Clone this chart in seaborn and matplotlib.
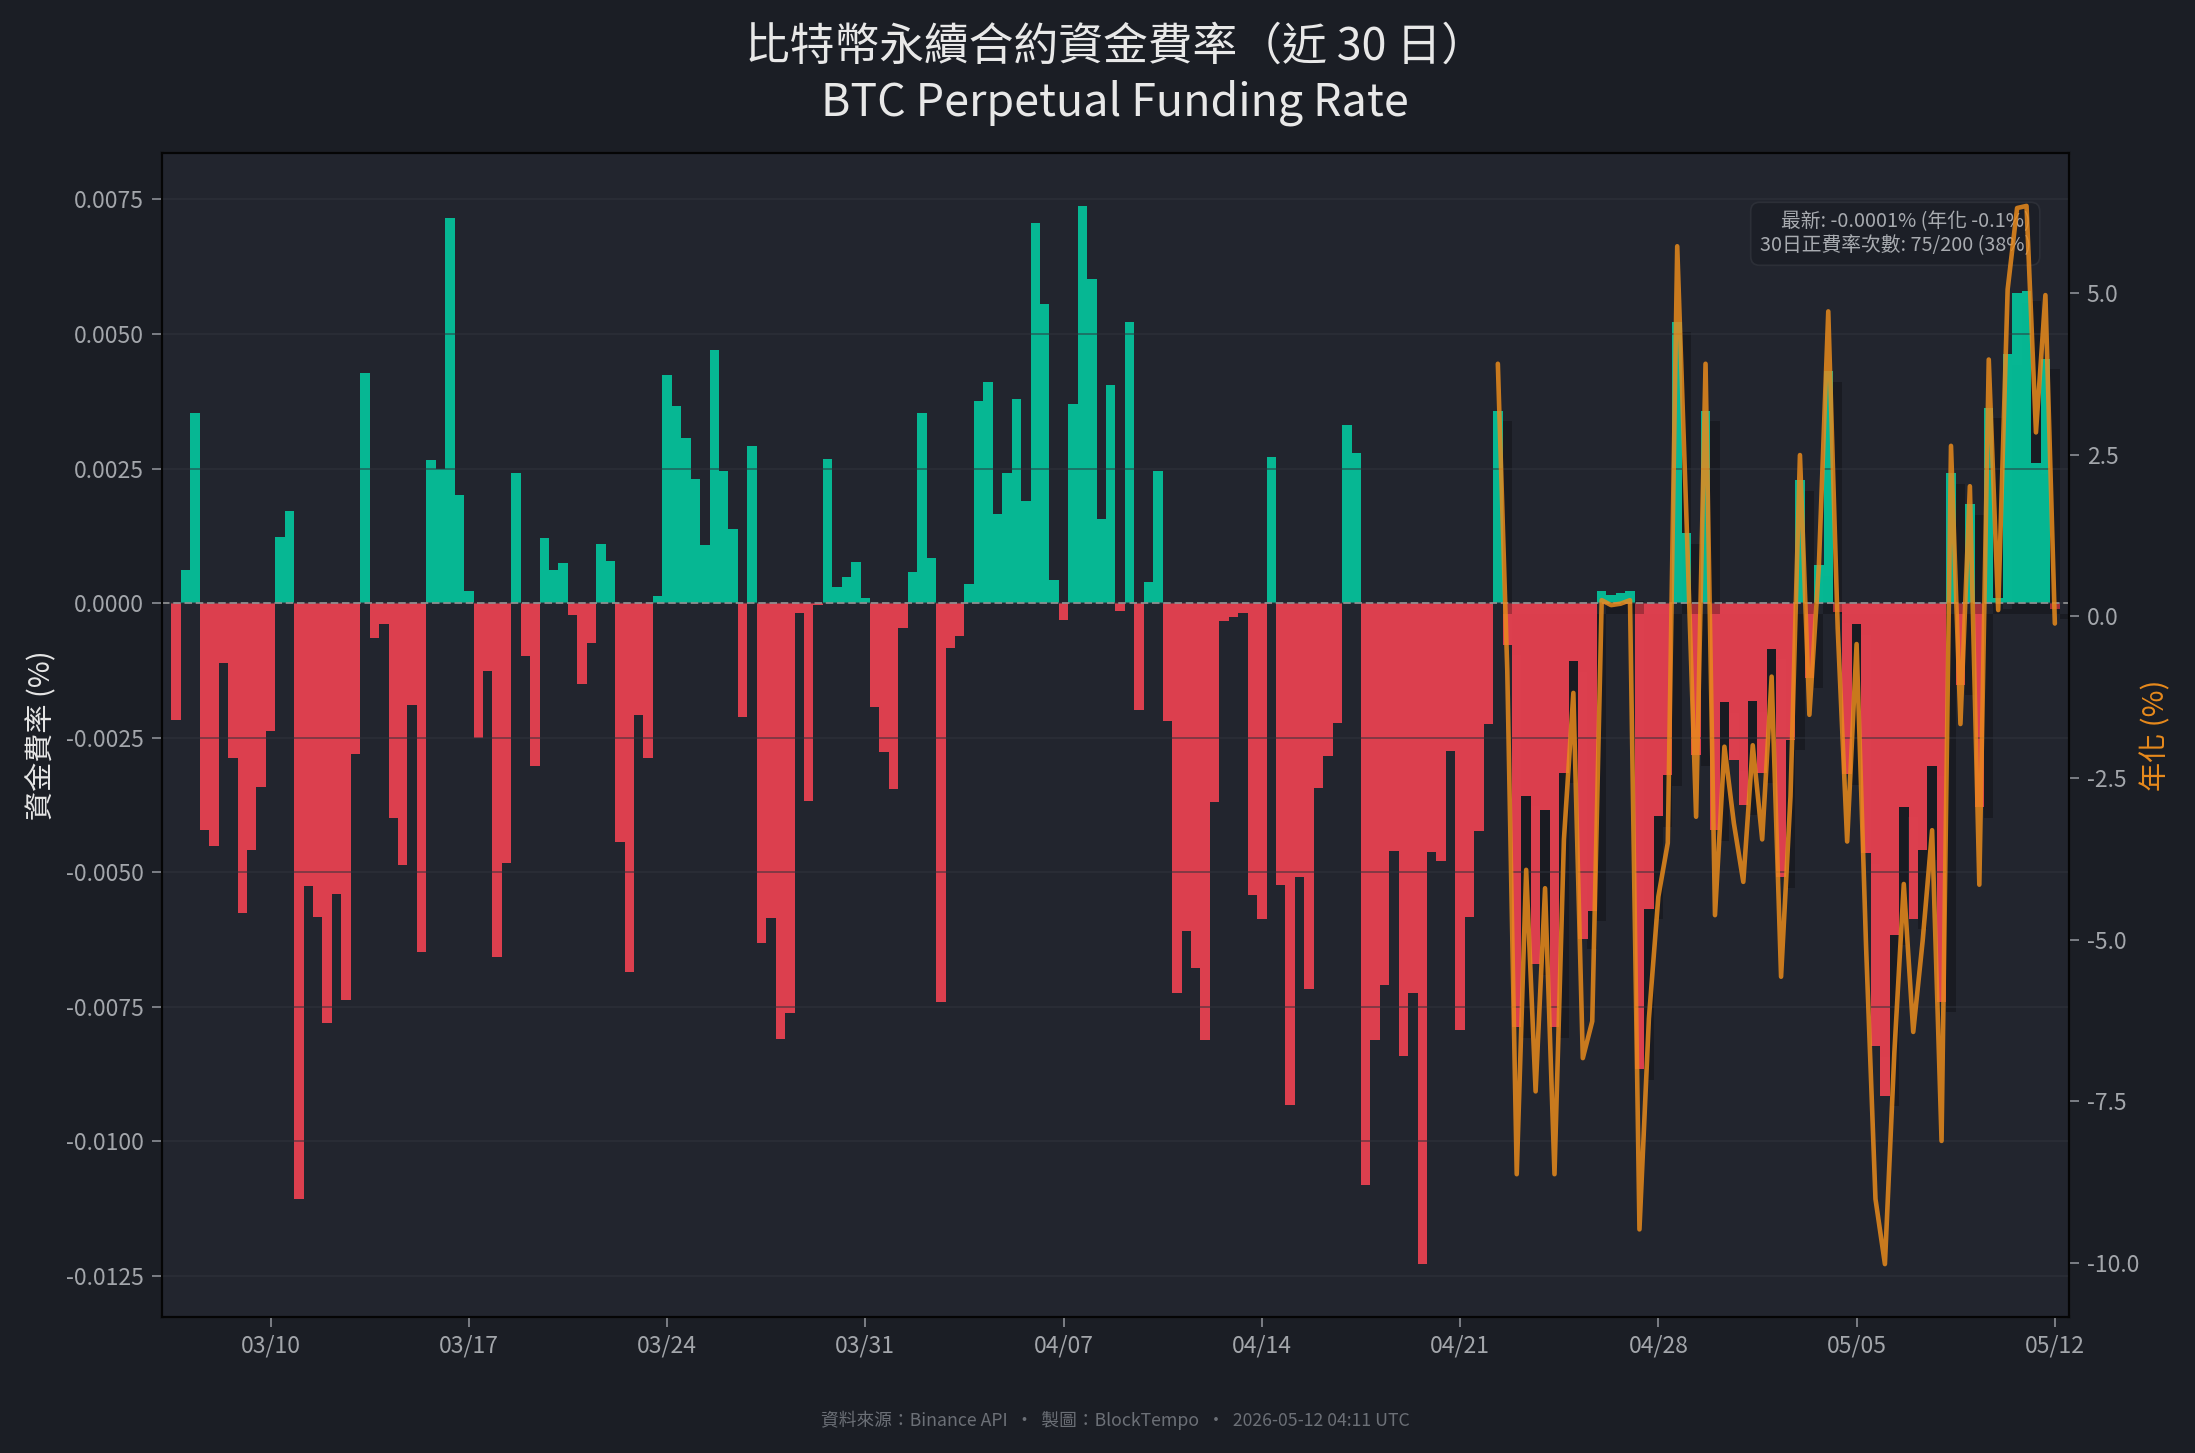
import numpy as np
import pandas as pd
import matplotlib
matplotlib.use("Agg")
import matplotlib.pyplot as plt
import matplotlib.patheffects as pe
from matplotlib.ticker import FormatStrFormatter
import seaborn as sns

# ---------------- data ----------------
first_time = "2026-03-06 16:00"          # first funding timestamp (8h interval)
funding_rates = [
    -0.00217, 0.00061, 0.00353, -0.00422, -0.00452, -0.00112, -0.00288, -0.00575, -0.00458, -0.00342,
    -0.00238, 0.00122, 0.00172, -0.01107, -0.00526, -0.00583, -0.00781, -0.00540, -0.00738, -0.00280,
    0.00427, -0.00065, -0.00039, -0.00400, -0.00487, -0.00190, -0.00648, 0.00266, 0.00250, 0.00715,
    0.00200, 0.00023, -0.00251, -0.00126, -0.00657, -0.00483, 0.00241, -0.00099, -0.00302, 0.00121,
    0.00061, 0.00074, -0.00022, -0.00151, -0.00074, 0.00109, 0.00079, -0.00444, -0.00685, -0.00208,
    -0.00288, 0.00014, 0.00423, 0.00367, 0.00306, 0.00230, 0.00108, 0.00471, 0.00245, 0.00137,
    -0.00211, 0.00292, -0.00631, -0.00585, -0.00809, -0.00762, -0.00018, -0.00368, -0.00003, 0.00267,
    0.00030, 0.00048, 0.00076, 0.00010, -0.00193, -0.00277, -0.00345, -0.00047, 0.00057, 0.00353,
    0.00083, -0.00741, -0.00083, -0.00061, 0.00035, 0.00376, 0.00411, 0.00165, 0.00241, 0.00380,
    0.00189, 0.00707, 0.00555, 0.00043, -0.00031, 0.00370, 0.00738, 0.00602, 0.00156, 0.00405,
    -0.00014, 0.00523, -0.00198, 0.00040, 0.00245, -0.00219, -0.00724, -0.00609, -0.00677, -0.00811,
    -0.00370, -0.00034, -0.00025, -0.00018, -0.00542, -0.00587, 0.00272, -0.00523, -0.00932, -0.00509,
    -0.00716, -0.00344, -0.00284, -0.00223, 0.00331, 0.00279, -0.01081, -0.00811, -0.00710, -0.00461,
    -0.00841, -0.00724, -0.01228, -0.00462, -0.00479, -0.00275, -0.00793, -0.00583, -0.00424, -0.00225,
    0.00357, -0.00077, -0.00788, -0.00358, -0.00671, -0.00384, -0.00788, -0.00315, -0.00108, -0.00624,
    -0.00572, 0.00023, 0.00016, 0.00018, 0.00023, -0.00866, -0.00568, -0.00396, -0.00320, 0.00523,
    0.00130, -0.00283, 0.00357, -0.00422, -0.00184, -0.00292, -0.00375, -0.00182, -0.00315, -0.00085,
    -0.00509, -0.00254, 0.00228, -0.00139, 0.00070, 0.00431, -0.00017, -0.00318, -0.00039, -0.00465,
    -0.00823, -0.00915, -0.00616, -0.00378, -0.00587, -0.00458, -0.00302, -0.00741, 0.00241, -0.00152,
    0.00184, -0.00379, 0.00363, 0.00009, 0.00462, 0.00577, 0.00580, 0.00260, 0.00454, -0.00010,
]
line_points = 60                          # annualized line covers the last 60 fundings
periods_per_year = 3 * 365
tick_dates = ["2026-03-10", "2026-03-17", "2026-03-24", "2026-03-31", "2026-04-07",
              "2026-04-14", "2026-04-21", "2026-04-28", "2026-05-05", "2026-05-12"]
tick_labels = ["03/10", "03/17", "03/24", "03/31", "04/07",
               "04/14", "04/21", "04/28", "05/05", "05/12"]
title_text = "比特幣永續合約資金費率（近 30 日）\nBTC Perpetual Funding Rate"
footer_text = "資料來源：Binance API  ・  製圖：BlockTempo  ・  2026-05-12 04:11 UTC"

# ---------------- style ----------------
FIG_BG = "#1b1e25"
AX_BG = "#22252e"
GREEN = "#03c89f"
RED = "#f14252"
ORANGE = "#e88a1c"
TICK_C = "#a3a6ab"

sns.set_theme(style="dark", rc={
    "figure.facecolor": FIG_BG,
    "axes.facecolor": AX_BG,
    "axes.edgecolor": "#050505",
    "axes.linewidth": 1.0,
    "xtick.color": "#8d9096",
    "ytick.color": "#8d9096",
    "xtick.labelcolor": TICK_C,
    "ytick.labelcolor": TICK_C,
    "xtick.bottom": True,
    "ytick.left": True,
    "text.color": "#e6e6e6",
})
plt.rcParams["font.family"] = ["Noto Sans CJK TC", "DejaVu Sans"]

n = len(funding_rates)
times = pd.date_range(first_time, periods=n, freq="8h")
df = pd.DataFrame({"idx": np.arange(n), "rate": funding_rates})
df["sign"] = np.where(df["rate"] >= 0, "pos", "neg")

fig = plt.figure(figsize=(2195 / 150, 1453 / 150), dpi=150)
ax = fig.add_axes([0.0738, 0.0936, 0.8688, 0.8011])

sns.barplot(data=df, x="idx", y="rate", hue="sign",
            palette={"pos": GREEN, "neg": RED}, native_scale=True,
            dodge=False, width=1.0, saturation=1, alpha=0.9,
            linewidth=0, edgecolor="none", errorbar=None, legend=False, ax=ax)

# shadow on the highlighted (line) section
start_idx = n - line_points
for p in ax.patches:
    cx = p.get_x() + p.get_width() / 2
    if cx >= start_idx - 0.5:
        p.set_path_effects([pe.SimplePatchShadow(offset=(4.5, -5), shadow_rgbFace="black", alpha=0.25),
                            pe.Normal()])

ax.axhline(0, color="#a0a0a0", ls=(0, (4, 2)), lw=0.9, alpha=0.8, zorder=5)
ax.yaxis.grid(True, color="#30333c", lw=0.8, alpha=0.6, zorder=4)
ax.set_axisbelow(False)
ax.xaxis.grid(False)

ax.yaxis.set_major_formatter(FormatStrFormatter("%.4f"))
ax.tick_params(axis="both", labelsize=11, length=5, width=0.8)
tick_pos = times.get_indexer(pd.to_datetime(tick_dates))
ax.set_xticks(tick_pos)
ax.set_xticklabels(tick_labels)
ax.set_xlabel("")
ax.set_ylabel("資金費率 (%)", fontsize=14, color="#e6e6e6", labelpad=5)

# annualized line on twin axis
ax2 = ax.twinx()
line_df = pd.DataFrame({"idx": df["idx"].iloc[start_idx:].values,
                        "ann": df["rate"].iloc[start_idx:].values * periods_per_year})
sns.lineplot(data=line_df, x="idx", y="ann", ax=ax2, color=ORANGE, lw=2.2, alpha=0.85)
ax2.grid(False)
ax2.yaxis.set_major_formatter(FormatStrFormatter("%.1f"))
ax2.tick_params(axis="y", labelsize=11, length=5, width=0.8, right=True,
                colors="#8d9096", labelcolor=TICK_C)
ax2.set_ylabel("年化 (%)", fontsize=14, color=ORANGE, labelpad=1)
ax2.set_xlabel("")
for s in ax2.spines.values():
    s.set_color("#050505")

ax.set_xlim(-1.5, n + 0.5)

# info box
latest = funding_rates[-1]
pos_count = int((df["rate"] > 0).sum())
info = (f"最新: {latest:.4f}% (年化 {latest * periods_per_year:.1f}%)\n"
        f"30日正費率次數: {pos_count}/{n} ({pos_count / n * 100:.0f}%)")
ax.text(0.98, 0.95, info, transform=ax.transAxes, ha="right", va="top",
        fontsize=9.5, color="#a8abb0", zorder=6,
        bbox=dict(boxstyle="round,pad=0.45", fc="#1c1f27", ec="#2e3139", lw=0.8, alpha=0.9))

fig.text(0.508, 0.9485, title_text, ha="center", va="center", fontsize=21.5,
         color="#e8e8e8", linespacing=1.27)
fig.text(0.508, 0.0225, footer_text, ha="center", va="center", fontsize=8.5, color="#6c7077")

fig.savefig("out.png", dpi=150, facecolor=FIG_BG)
